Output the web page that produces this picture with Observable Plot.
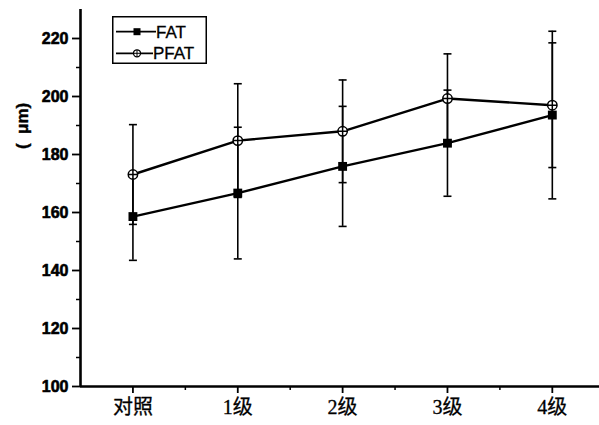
<!DOCTYPE html>
<html><head><meta charset="utf-8">
<script src="https://cdn.jsdelivr.net/npm/d3@7"></script>
<script src="https://cdn.jsdelivr.net/npm/@observablehq/plot@0.6"></script>
<style>
body{margin:0;background:#fff;}
#chart{position:relative;width:599px;height:425px;overflow:hidden;}
#legend{position:absolute;left:112px;top:16px;}
</style></head><body><div id="chart"></div>
<script>
const categories = ["对照","1级","2级","3级","4级"];
const seriesNames = ["FAT","PFAT"];
const fatMean = [158.6,166.7,175.9,183.9,193.6];
const fatErr  = [15.1,22.7,20.7,18.3,28.9];
const pfatMean = [173.1,184.8,188.0,199.3,197.0];
const pfatErr  = [17.2,19.6,17.7,15.4,21.5];
const yTicks = [100,120,140,160,180,200,220];
const yMinor = [110,130,150,170,190,210];
const xMinor = [0.5,1.5,2.5,3.5];
const yLabel = "(  μm)";

const rows = [];
categories.forEach((c,i)=>{
  rows.push({i, cat:c, series:seriesNames[0], mean:fatMean[i], err:fatErr[i]});
  rows.push({i, cat:c, series:seriesNames[1], mean:pfatMean[i], err:pfatErr[i]});
});
const fat = rows.filter(d=>d.series==="FAT");
const pfat = rows.filter(d=>d.series==="PFAT");

const circlePlus = {draw(ctx,size){const r=Math.sqrt(size/Math.PI);ctx.moveTo(r,0);ctx.arc(0,0,r,0,2*Math.PI);ctx.moveTo(-r,0);ctx.lineTo(r,0);ctx.moveTo(0,-r);ctx.lineTo(0,r);}};
const cap = {draw(ctx,size){const w=4;ctx.moveTo(-w,0);ctx.lineTo(w,0);}};

const numFont = "'Liberation Sans', Arial, sans-serif";
const catFont = "'Liberation Serif', 'Noto Sans CJK SC', serif";

const plot = Plot.plot({
  width:599, height:425, marginLeft:80, marginRight:0, marginTop:9, marginBottom:39,
  x:{type:"linear", domain:[-0.5,4.45]},
  y:{domain:[100,230]},
  style:{background:"#fff", color:"#000"},
  marks:[
    Plot.axisY(yTicks,{tickSize:8, tickPadding:4, strokeWidth:1.8, fontSize:16, fontWeight:"bold", fontFamily:numFont, textStroke:"#000", textStrokeWidth:0.6, label:null}),
    Plot.axisY(yMinor,{tickSize:4, strokeWidth:1.5, tickFormat:()=>"", label:null}),
    Plot.axisX([0,1,2,3,4],{tickSize:7, tickPadding:6, strokeWidth:1.8, tickFormat:i=>categories[i], fontSize:20, fontFamily:catFont, textStroke:"#000", textStrokeWidth:0.3, label:null}),
    Plot.axisX(xMinor,{tickSize:4, strokeWidth:1.5, tickFormat:()=>"", label:null}),
    Plot.ruleX([-0.5],{strokeWidth:2.6}),
    Plot.ruleY([100],{strokeWidth:2.6}),
    Plot.text([yLabel],{frameAnchor:"left", rotate:-90, dx:-58, dy:-49, fontSize:17, fontWeight:"bold", fontFamily:numFont, stroke:"#000", strokeWidth:0.4, fill:"#000"}),
    Plot.ruleX(rows,{x:"i", y1:d=>d.mean-d.err, y2:d=>d.mean+d.err, stroke:"#000", strokeWidth:1.6}),
    Plot.dot(rows,{x:"i", y:d=>d.mean-d.err, symbol:cap, stroke:"#000", strokeWidth:1.6, fill:"none"}),
    Plot.dot(rows,{x:"i", y:d=>d.mean+d.err, symbol:cap, stroke:"#000", strokeWidth:1.6, fill:"none"}),
    Plot.line(fat,{x:"i", y:"mean", stroke:"#000", strokeWidth:2.4}),
    Plot.line(pfat,{x:"i", y:"mean", stroke:"#000", strokeWidth:2.4}),
    Plot.dot(fat,{x:"i", y:"mean", symbol:"square", r:5, fill:"#000", stroke:"none"}),
    Plot.dot(pfat,{x:"i", y:"mean", symbol:circlePlus, r:4.7, fill:"#fff", stroke:"#000", strokeWidth:1.5})
  ]
});
const chart = document.getElementById("chart");
chart.appendChild(plot);

const legend = document.createElement("div");
legend.id = "legend";
legend.innerHTML = `<svg width="95" height="48" style="font-family:'Liberation Sans',Arial,sans-serif">
  <rect x="0.75" y="0.75" width="93.5" height="46.5" fill="#fff" stroke="#000" stroke-width="1.5"/>
  <line x1="4" x2="44" y1="15.7" y2="15.7" stroke="#000" stroke-width="1.8"/>
  <rect x="21.5" y="12.2" width="7" height="7" fill="#000"/>
  <text x="44" y="21.8" font-size="17" stroke="#000" stroke-width="0.3">${seriesNames[0]}</text>
  <line x1="4" x2="41" y1="37.3" y2="37.3" stroke="#000" stroke-width="1.8"/>
  <circle cx="25" cy="37.3" r="3.5" fill="#fff" stroke="#000" stroke-width="1.3"/>
  <path d="M21.5,37.3H28.5M25,33.8V40.8" stroke="#000" stroke-width="1"/>
  <text x="41" y="43.4" font-size="17" stroke="#000" stroke-width="0.3">${seriesNames[1]}</text>
</svg>`;
chart.appendChild(legend);
</script></body></html>
